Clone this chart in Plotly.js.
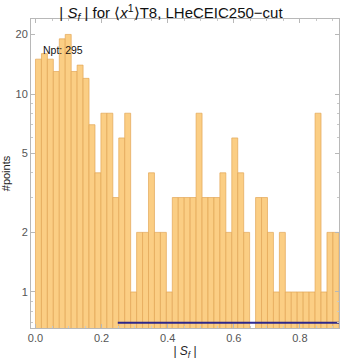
<!DOCTYPE html>
<html>
<head>
<meta charset="utf-8">
<script src="https://cdn.plot.ly/plotly-3.0.1.min.js"></script>
<style>html,body{margin:0;padding:0;background:#fff;}#chart{width:342px;height:360px;}</style>
</head>
<body>
<div id="chart"></div>
<script>
// Histogram counts, bins of width 0.018 starting at 0
var binStart = 0.0;
var binWidth = 0.018;
var counts = [15,16,15,13,19,20,13,14,12,7,
              4,8,8,3,6,8,1,2,2,4,
              2,2,1,3,3,3,3,8,3,3,
              3,4,2,6,4,2,0,3,3,2,
              1,2,1,1,1,1,1,8,1,2,2];
// Reference line
var refLineX = [0.249, 0.92];
var refLineY = [0.70, 0.70];
var nptText = "Npt: 295";
var xTickVals = [0.0, 0.2, 0.4, 0.6, 0.8];
var yTickVals = [1, 2, 5, 10, 20];
var yMinorVals = [0.7,0.8,0.9,1,2,3,4,5,6,7,8,9,10,20];

var traces = [
  {
    type: 'bar',
    x0: binStart + binWidth/2,
    dx: binWidth,
    y: counts,
    width: binWidth,
    marker: {color: 'rgb(251,206,132)', line: {color: 'rgb(226,166,86)', width: 0.7}},
    hoverinfo: 'skip'
  },
  {
    type: 'scatter',
    mode: 'lines',
    x: refLineX,
    y: refLineY,
    line: {color: 'rgba(28,26,140,0.92)', width: 2},
    hoverinfo: 'skip'
  }
];

var axisCommon = {
  showgrid: false,
  zeroline: false,
  showline: true,
  linecolor: '#b8b8b8',
  linewidth: 1,
  mirror: 'allticks',
  ticks: 'inside',
  ticklen: 4,
  tickcolor: '#b8b8b8',
  tickfont: {family: 'Liberation Sans, Arial, sans-serif', size: 11, color: '#555'}
};

var layout = {
  width: 342, height: 360,
  margin: {l: 31, r: 3, t: 19, b: 32},
  paper_bgcolor: '#fff', plot_bgcolor: '#fff',
  showlegend: false,
  bargap: 0,
  font: {family: 'Liberation Sans, Arial, sans-serif'},
  title: {
    text: '| <i>S<sub>f</sub></i> | for ⟨<i>x</i><sup>1</sup>⟩T8, LHeCEIC250\u2212cut',
    font: {family: 'Liberation Sans, Arial, sans-serif', size: 15, color: '#111'},
    x: 0.5, xanchor: 'center', y: 0.964, yanchor: 'middle', yref: 'container'
  },
  xaxis: Object.assign({}, axisCommon, {
    range: [-0.0136, 0.9184],
    tickvals: xTickVals,
    tickformat: '.1f',
    minor: {dtick: 0.05, ticks: 'inside', ticklen: 2, tickcolor: '#c8c8c8'},
    title: {text: '| <i>S<sub>f</sub></i> |', font: {size: 12, color: '#222'}, standoff: 4}
  }),
  yaxis: Object.assign({}, axisCommon, {
    type: 'log',
    range: [-0.182, 1.379],
    tickmode: 'array',
    tickvals: yTickVals,
    ticktext: yTickVals.map(String),
    minor: {tickmode: 'array', tickvals: yMinorVals, ticks: 'inside', ticklen: 2, tickcolor: '#c8c8c8'},
    title: {text: '#points', font: {size: 11, color: '#222'}, standoff: 6}
  }),
  annotations: [{
    text: nptText, x: 0.017, y: 1.222, xref: 'x', yref: 'y',
    xanchor: 'left', yanchor: 'middle', showarrow: false,
    font: {family: 'Liberation Sans, Arial, sans-serif', size: 10.5, color: '#111'}
  }]
};

Plotly.newPlot('chart', traces, layout, {staticPlot: true, displayModeBar: false});
</script>
</body>
</html>
